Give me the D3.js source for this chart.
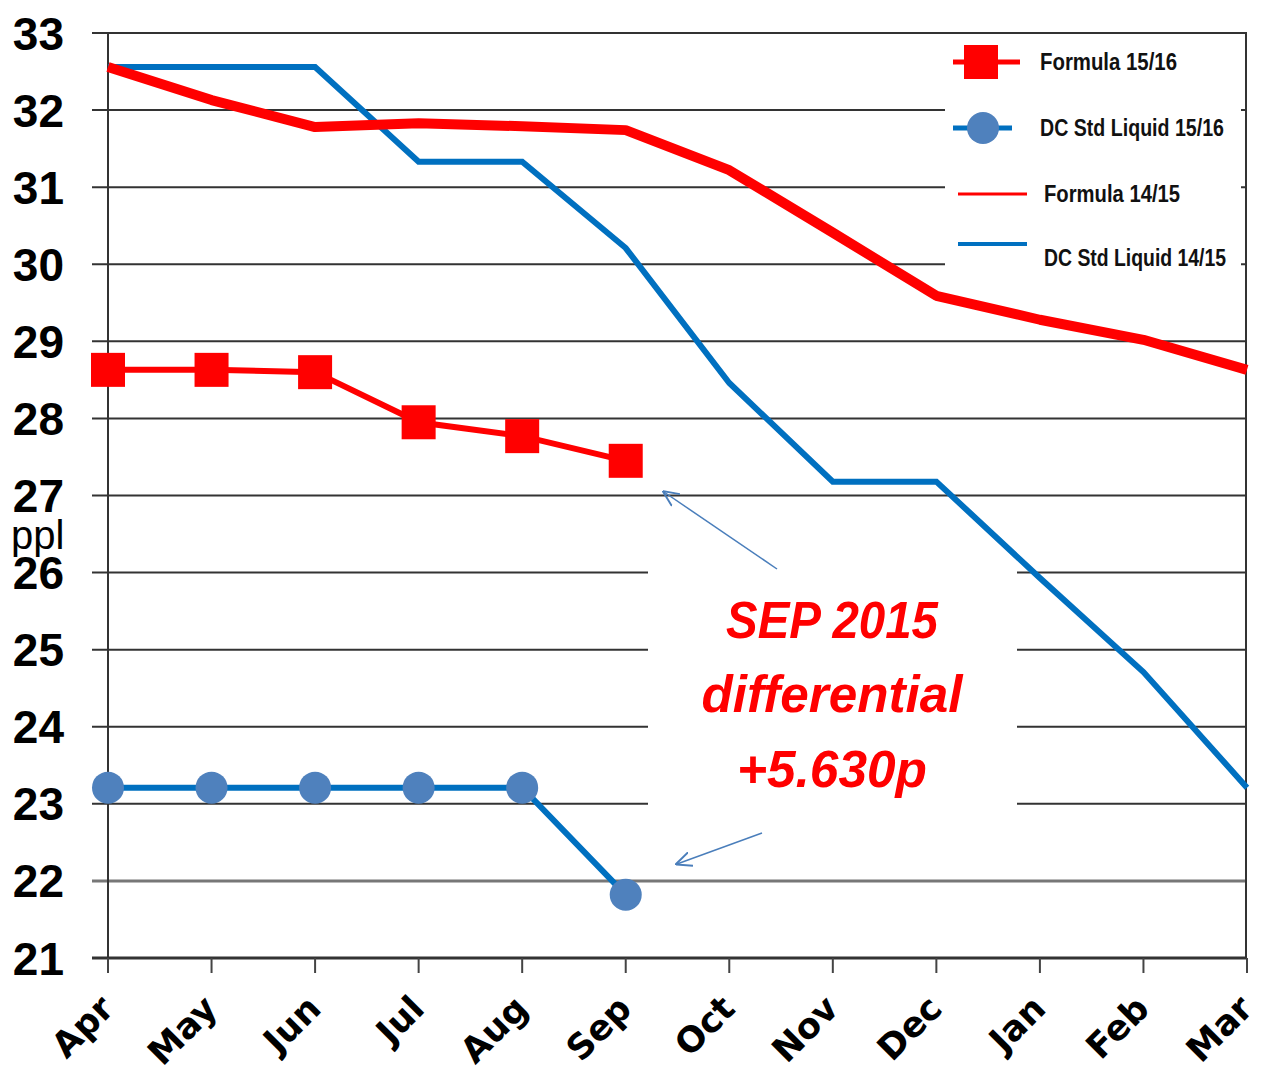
<!DOCTYPE html>
<html><head><meta charset="utf-8">
<script src="https://cdn.jsdelivr.net/npm/d3@7"></script>
<style>body{margin:0;background:#fff}svg{display:block}</style>
</head><body>
<svg id="c" width="1261" height="1079"></svg>
<script>
const months = ["Apr","May","Jun","Jul","Aug","Sep","Oct","Nov","Dec","Jan","Feb","Mar"];
const yTicks = [21,22,23,24,25,26,27,28,29,30,31,32,33];
const formula1516 = [28.63,28.63,28.60,27.95,27.77,27.45];
const dcStd1516 = [23.21,23.21,23.21,23.21,23.21,21.82];
const formula1415 = [32.56,32.13,31.78,31.83,31.79,31.74,31.22,30.41,29.59,29.28,29.02,28.63];
const dcStd1415 = [32.56,32.56,32.56,31.33,31.33,30.21,28.46,27.18,27.18,25.93,24.71,23.21];
const seriesNames = ["Formula 15/16","DC Std Liquid 15/16","Formula 14/15","DC Std Liquid 14/15"];
const annotationLines = ["SEP 2015","differential","+5.630p"];
const yLabel = "ppl";

const svg = d3.select("#c");
const x = d3.scalePoint().domain(months).range([108,1247]);
const y = d3.scaleLinear().domain([21,33]).range([958,33]);
const RED = "#ff0000", BLUE = "#0070c0", DOT = "#4f81bd";

// gridlines
svg.append("g").selectAll("line").data(yTicks).join("line")
  .attr("x1",92).attr("x2",1247).attr("y1",d=>y(d)).attr("y2",d=>y(d))
  .attr("stroke",d=>d===22?"#777":"#333").attr("stroke-width",d=>d===22?3:2);

// annotation white box
svg.append("rect").attr("x",648).attr("y",505).attr("width",369).attr("height",310).attr("fill","#fff");
// legend white box
svg.append("rect").attr("x",945).attr("y",38).attr("width",296).attr("height",234).attr("fill","#fff");

// axes frame
svg.append("line").attr("x1",1246).attr("x2",1246).attr("y1",y(33)).attr("y2",y(21)).attr("stroke","#333").attr("stroke-width",2);
svg.append("line").attr("x1",108).attr("x2",108).attr("y1",y(33)).attr("y2",y(21)+15).attr("stroke","#333").attr("stroke-width",2);
svg.append("line").attr("x1",92).attr("x2",1247).attr("y1",y(21)).attr("y2",y(21)).attr("stroke","#333").attr("stroke-width",3);
svg.append("g").selectAll("line").data(months).join("line")
  .attr("x1",d=>x(d)).attr("x2",d=>x(d)).attr("y1",y(21)).attr("y2",y(21)+15)
  .attr("stroke","#444").attr("stroke-width",2);

// y tick labels
svg.append("g").selectAll("text").data(yTicks).join("text")
  .attr("x",64).attr("y",d=>y(d)).attr("dy","0.36em").attr("text-anchor","end")
  .attr("font-family","Liberation Sans, Arial, sans-serif").attr("font-weight","bold")
  .attr("font-size",46).attr("fill","#000").text(d=>d);
svg.append("text").attr("x",11).attr("y",549).attr("font-family","Liberation Sans, Arial, sans-serif")
  .attr("font-size",40).attr("fill","#000").text(yLabel);

// x tick labels
svg.append("g").selectAll("text").data(months).join("text")
  .attr("transform",d=>`translate(${x(d)-1},${y(21)+44}) rotate(-45)`)
  .attr("text-anchor","end").attr("dy","0.35em")
  .attr("font-family","DejaVu Sans, sans-serif").attr("font-weight","bold")
  .attr("font-size",35).attr("fill","#000").text(d=>d);

const line = d3.line().x((d,i)=>x(months[i])).y(d=>y(d));

svg.append("path").datum(dcStd1415).attr("d",line).attr("fill","none").attr("stroke",BLUE).attr("stroke-width",6).attr("stroke-linejoin","miter");
svg.append("path").datum(formula1415).attr("d",line).attr("fill","none").attr("stroke",RED).attr("stroke-width",10).attr("stroke-linejoin","round");

svg.append("path").datum(formula1516).attr("d",line).attr("fill","none").attr("stroke",RED).attr("stroke-width",6);
svg.append("g").selectAll("rect").data(formula1516).join("rect")
  .attr("x",(d,i)=>x(months[i])-17).attr("y",d=>y(d)-17).attr("width",34).attr("height",34).attr("fill",RED);

svg.append("path").datum(dcStd1516).attr("d",line).attr("fill","none").attr("stroke",BLUE).attr("stroke-width",6);
svg.append("g").selectAll("circle").data(dcStd1516).join("circle")
  .attr("cx",(d,i)=>x(months[i])).attr("cy",d=>y(d)).attr("r",16).attr("fill",DOT);

// legend
const lg = svg.append("g");
const legendRows = [
  {y:62, tx:1040, w:137, col:RED, sw:5, x1:953, x2:1020, mark:"square"},
  {y:128, tx:1040, w:184, col:BLUE, sw:5, x1:953, x2:1012, mark:"circle"},
  {y:194, tx:1044, w:136, col:RED, sw:3, x1:958, x2:1027, mark:null},
  {y:244, tx:1044, w:182, col:BLUE, sw:4, x1:958, x2:1027, mark:null, ty:258}
];
legendRows.forEach((r,i)=>{
  lg.append("line").attr("x1",r.x1).attr("x2",r.x2).attr("y1",r.y).attr("y2",r.y).attr("stroke",r.col).attr("stroke-width",r.sw);
  if(r.mark==="square") lg.append("rect").attr("x",964).attr("y",r.y-17).attr("width",34).attr("height",34).attr("fill",RED);
  if(r.mark==="circle") lg.append("circle").attr("cx",983).attr("cy",r.y).attr("r",16).attr("fill",DOT);
  lg.append("text").attr("x",r.tx).attr("y",r.ty||r.y).attr("dy","0.35em")
    .attr("font-family","Liberation Sans, Arial, sans-serif").attr("font-weight","bold").attr("font-size",23)
    .attr("fill","#111").attr("textLength",r.w).attr("lengthAdjust","spacingAndGlyphs").text(seriesNames[i]);
});

// annotation text
const ann = [{y:638,w:212},{y:712,w:261},{y:787,w:190}];
svg.append("g").selectAll("text").data(annotationLines).join("text")
  .attr("x",832).attr("y",(d,i)=>ann[i].y).attr("text-anchor","middle")
  .attr("font-family","Liberation Sans, Arial, sans-serif").attr("font-weight","bold").attr("font-style","italic")
  .attr("font-size",52).attr("fill",RED)
  .attr("textLength",(d,i)=>ann[i].w).attr("lengthAdjust","spacingAndGlyphs").text(d=>d);

// arrows
const defs = svg.append("defs");
defs.append("marker").attr("id","ah").attr("viewBox","0 0 10 10").attr("refX",9).attr("refY",5)
  .attr("markerWidth",16).attr("markerHeight",16).attr("markerUnits","userSpaceOnUse").attr("orient","auto")
  .append("path").attr("d","M0,0.5 L10,5 L0,9.5").attr("fill","none").attr("stroke","#4a7ebb").attr("stroke-width",1.2);
[[777,569,664,492],[762,833,677,864]].forEach(a=>{
  svg.append("line").attr("x1",a[0]).attr("y1",a[1]).attr("x2",a[2]).attr("y2",a[3])
    .attr("stroke","#4a7ebb").attr("stroke-width",1.5).attr("marker-end","url(#ah)");
});
</script>
</body></html>
